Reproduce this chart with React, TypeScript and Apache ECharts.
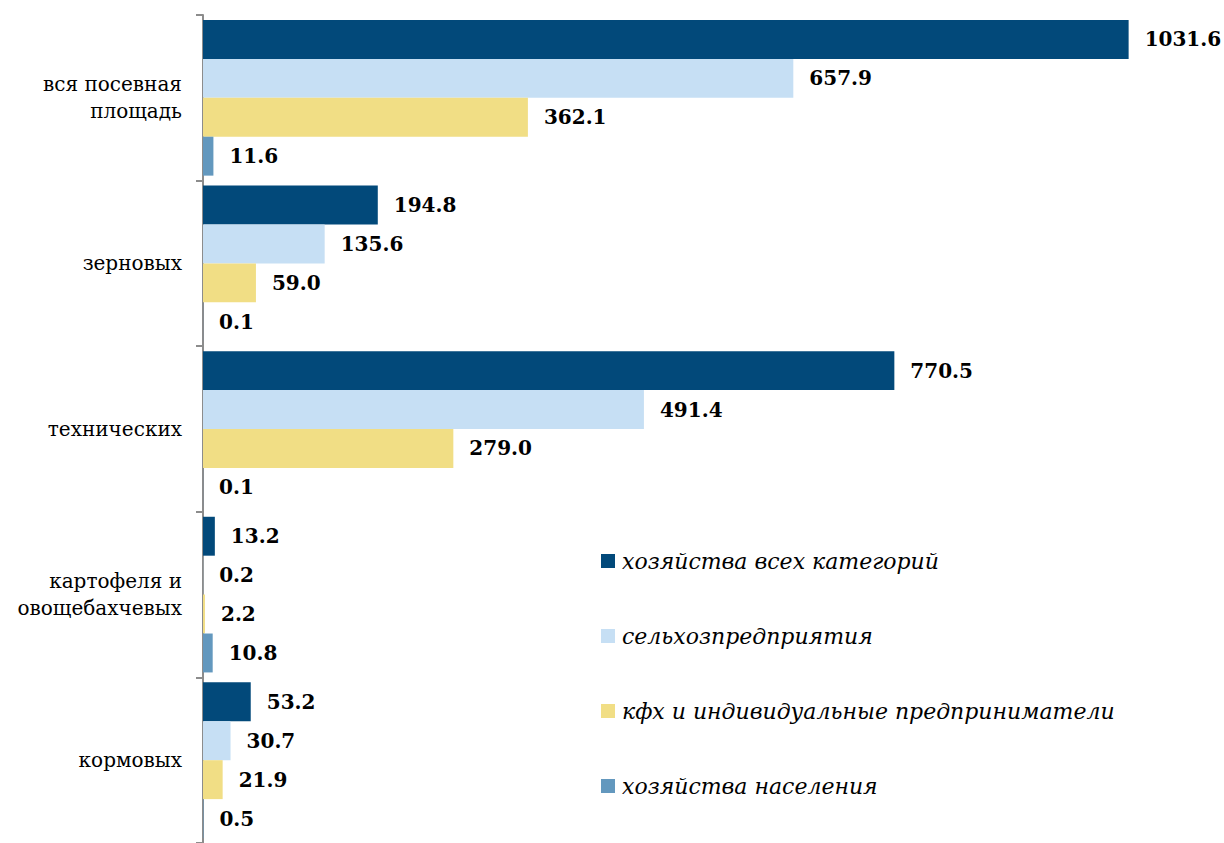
import React, { useEffect, useRef } from "react";
import * as echarts from "echarts";

const categories = [
  "вся посевная\nплощадь",
  "зерновых",
  "технических",
  "картофеля и\nовощебахчевых",
  "кормовых",
];
const seriesNames = [
  "хозяйства всех категорий",
  "сельхозпредприятия",
  "кфх и индивидуальные предприниматели",
  "хозяйства населения",
];
const allFarms = [1031.6, 194.8, 770.5, 13.2, 53.2];
const agriEnterprises = [657.9, 135.6, 491.4, 0.2, 30.7];
const peasantFarms = [362.1, 59.0, 279.0, 2.2, 21.9];
const households = [11.6, 0.1, 0.1, 10.8, 0.5];
const colors = ["#02497A", "#C6DFF4", "#F1DE85", "#6398BE"];

export default function App() {
  const ref = useRef<HTMLDivElement>(null);
  useEffect(() => {
    document.body.style.margin = "0";
    const chart = echarts.init(ref.current!, null, { renderer: "svg" });
    const data = [allFarms, agriEnterprises, peasantFarms, households];
    chart.setOption({
      animation: false,
      backgroundColor: "#ffffff",
      grid: { left: 203, right: 34, top: 15, height: 830 },
      legend: {
        orient: "vertical",
        left: 601,
        top: 550,
        padding: 0,
        itemWidth: 14,
        itemHeight: 14,
        itemGap: 53,
        icon: "rect",
        textStyle: {
          fontFamily: "DejaVu Serif",
          fontStyle: "italic",
          fontSize: 22,
          color: "#000",
          padding: [0, 0, 0, 2],
        },
        data: seriesNames,
      },
      xAxis: {
        type: "value",
        min: 0,
        max: 1100,
        show: false,
      },
      yAxis: {
        type: "category",
        inverse: true,
        data: categories,
        axisLine: { show: true, lineStyle: { color: "#8c8c8c", width: 2 } },
        axisTick: { show: true, length: 7, lineStyle: { color: "#8c8c8c", width: 2 } },
        axisLabel: {
          margin: 21,
          fontFamily: "DejaVu Serif",
          fontSize: 20,
          lineHeight: 27,
          color: "#000",
          align: "right",
        },
        splitLine: { show: false },
      },
      series: seriesNames.map((name, i) => ({
        name,
        type: "bar",
        data: data[i],
        barGap: "0%",
        barCategoryGap: "6%",
        itemStyle: { color: colors[i] },
        label: {
          show: true,
          position: "right",
          distance: 16,
          fontFamily: "DejaVu Serif",
          fontWeight: "bold",
          fontSize: 20,
          color: "#000",
          formatter: (p: any) => Number(p.value).toFixed(1),
        },
      })),
    });
    return () => chart.dispose();
  }, []);
  return <div ref={ref} style={{ width: 1224, height: 843 }} />;
}
